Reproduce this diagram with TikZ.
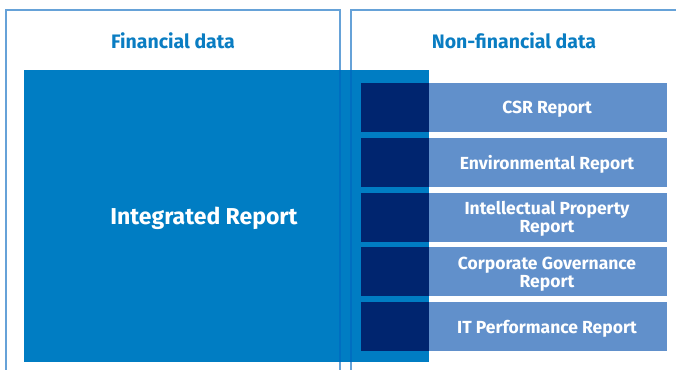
\documentclass[tikz,border=0pt]{standalone}
\usepackage{fontspec}
\setmainfont{Fira Sans}
\definecolor{panelline}{RGB}{0,100,190}
\definecolor{bigblue}{RGB}{0,125,195}
\definecolor{navy}{RGB}{0,37,111}
\definecolor{lightbox}{RGB}{97,144,203}
\definecolor{titleblue}{RGB}{10,125,194}
\begin{document}
\begin{tikzpicture}[x=1pt,y=-1pt,
  panel/.style={draw=panelline,draw opacity=0.6,line width=1.2pt},
  title/.style={text=titleblue,font=\bfseries\fontsize{19.5}{22}\selectfont},
  repbox/.style={text=white,align=center,inner sep=0pt,font=\bfseries\fontsize{17.5}{18}\selectfont}]
\useasboundingbox (0,0) rectangle (676,369);
% big square
\fill[bigblue] (24,70) rectangle (429,362);
\node[text=white,font=\bfseries\fontsize{23}{26}\selectfont] (ir) at (204,218) {Integrated Report};
% panels
\draw[panel] (6,375) -- (6,10) -- (340,10) -- (340,375);
\draw[panel] (351,375) -- (351,10) -- (680,10);
\node[title] (fin) at (173,41) {Financial data};
\node[title] (nonfin) at (514,41) {Non-financial data};
% rows
\foreach \i/\t in {0/{CSR Report},1/{Environmental Report},2/{Intellectual Property\\Report},3/{Corporate Governance\\Report},4/{IT Performance Report}}{
  \pgfmathsetmacro{\top}{83+\i*54.75}
  \fill[navy] (361,\top) rectangle (429,\top+49);
  \fill[lightbox] (429,\top) rectangle (667,\top+49);
  \node[repbox] (r\i) at (547,\top+26.5) {\t};
}
\end{tikzpicture}
\end{document}
